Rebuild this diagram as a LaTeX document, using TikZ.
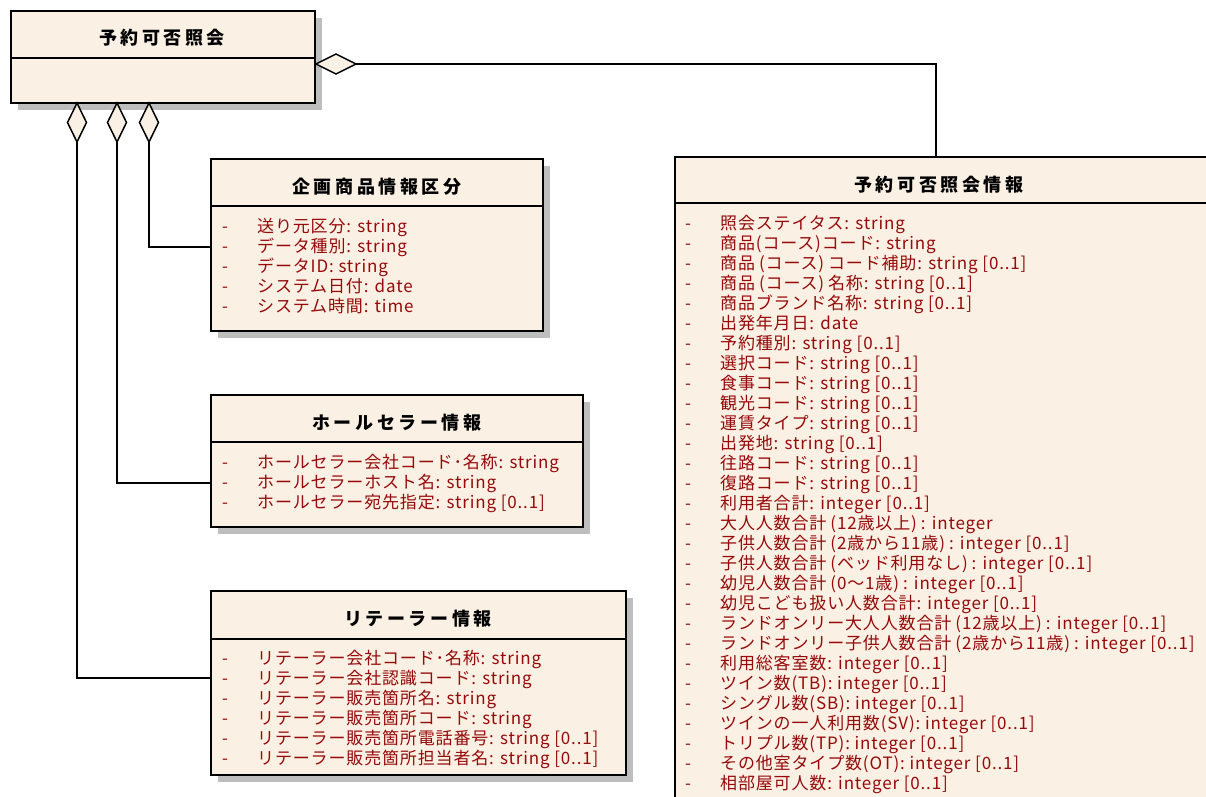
\documentclass[tikz,border=0pt]{standalone}
\usepackage{fontspec}
\setmainfont{Noto Sans CJK JP}
\newfontfamily\attrfont[LetterSpace=5]{Noto Sans CJK JP}
\newfontfamily\titlefont[LetterSpace=20]{Noto Sans CJK JP}
\usetikzlibrary{shadows}
\definecolor{cream}{RGB}{250,240,228}
\definecolor{attrred}{RGB}{150,10,10}
\definecolor{shadowgray}{RGB}{190,190,190}
\newcommand{\lp}{\hspace{4pt}(}
\newcommand{\rp}{)\hspace{4pt}}
\begin{document}
\begin{tikzpicture}[x=1pt,y=-1pt,
  box/.style={draw, line width=1.5pt, fill=cream, inner sep=0pt, anchor=north west,
    general shadow={fill=shadowgray, shadow xshift=7pt, shadow yshift=-7pt}},
  sepline/.style={line width=1.5pt},
  titletext/.style={font=\titlefont\bfseries\fontsize{18}{20}\selectfont, inner sep=0pt, anchor=center},
  attr/.style={font=\attrfont\fontsize{17}{20}\selectfont, text=attrred, inner sep=0pt, anchor=base west},
  conn/.style={line width=1.5pt},
  dia/.style={draw, line width=1.5pt, fill=cream, line join=miter}]
\useasboundingbox (0,0) rectangle (1206,796);
\clip (0,0) rectangle (1206,796);

% ---- main class
\node[box, minimum width=304pt, minimum height=92pt] (yoyaku) at (10,10) {};
\draw[sepline] (10,58) -- (314,58);
\node[titletext] (yoyaku-t) at (162,38) {予約可否照会};

% ---- 企画商品情報区分
\node[box, minimum width=332pt, minimum height=172pt] (kikaku) at (210,158) {};
\draw[sepline] (210,206) -- (542,206);
\node[titletext] (kikaku-t) at (377,187) {企画商品情報区分};
\foreach \t [count=\i] in {{送り元区分: string},{データ種別: string},{データID: string},{システム日付: date},{システム時間: time}}{
  \node[attr] (kikaku-d\i) at (222,{232+20*(\i-1)}) {-};
  \node[attr] (kikaku-a\i) at (257,{232+20*(\i-1)}) {\t};
}

% ---- ホールセラー情報
\node[box, minimum width=372pt, minimum height=132pt] (wsl) at (210,394) {};
\draw[sepline] (210,442) -- (582,442);
\node[titletext] (wsl-t) at (397,423) {ホールセラー情報};
\foreach \t [count=\i] in {{ホールセラー会社コード･名称: string},{ホールセラーホスト名: string},{ホールセラー宛先指定: string [0..1]}}{
  \node[attr] (wsl-d\i) at (222,{468+20*(\i-1)}) {-};
  \node[attr] (wsl-a\i) at (257,{468+20*(\i-1)}) {\t};
}

% ---- リテーラー情報
\node[box, minimum width=415pt, minimum height=184pt] (rtl) at (210,590) {};
\draw[sepline] (210,639) -- (625,639);
\node[titletext] (rtl-t) at (418,619) {リテーラー情報};
\foreach \t [count=\i] in {{リテーラー会社コード･名称: string},{リテーラー会社認識コード: string},{リテーラー販売箇所名: string},{リテーラー販売箇所コード: string},{リテーラー販売箇所電話番号: string [0..1]},{リテーラー販売箇所担当者名: string [0..1]}}{
  \node[attr] (rtl-d\i) at (222,{664+20*(\i-1)}) {-};
  \node[attr] (rtl-a\i) at (257,{664+20*(\i-1)}) {\t};
}

% ---- 予約可否照会情報
\node[box, minimum width=570pt, minimum height=700pt] (info) at (674,156) {};
\draw[sepline] (674,203) -- (1240,203);
\node[titletext] (info-t) at (939,185) {予約可否照会情報};
\foreach \t [count=\i] in {
 {照会ステイタス: string},
 {商品(コース)コード: string},
 {商品\lp コース\rp コード補助: string [0..1]},
 {商品\lp コース\rp 名称: string [0..1]},
 {商品ブランド名称: string [0..1]},
 {出発年月日: date},
 {予約種別: string [0..1]},
 {選択コード: string [0..1]},
 {食事コード: string [0..1]},
 {観光コード: string [0..1]},
 {運賃タイプ: string [0..1]},
 {出発地: string [0..1]},
 {往路コード: string [0..1]},
 {復路コード: string [0..1]},
 {利用者合計: integer [0..1]},
 {大人人数合計\lp 12歳以上\rp : integer},
 {子供人数合計\lp 2歳から11歳\rp : integer [0..1]},
 {子供人数合計\lp ベッド利用なし\rp : integer [0..1]},
 {幼児人数合計\lp 0～1歳\rp : integer [0..1]},
 {幼児こども扱い人数合計: integer [0..1]},
 {ランドオンリー大人人数合計\lp 12歳以上\rp : integer [0..1]},
 {ランドオンリー子供人数合計\lp 2歳から11歳\rp : integer [0..1]},
 {利用総客室数: integer [0..1]},
 {ツイン数(TB): integer [0..1]},
 {シングル数(SB): integer [0..1]},
 {ツインの一人利用数(SV): integer [0..1]},
 {トリプル数(TP): integer [0..1]},
 {その他室タイプ数(OT): integer [0..1]},
 {相部屋可人数: integer [0..1]}}{
  \node[attr] (info-d\i) at (685,{229.5+20*(\i-1)}) {-};
  \node[attr] (info-a\i) at (720,{229.5+20*(\i-1)}) {\t};
}

% ---- aggregation diamonds and connectors
\coordinate (d1) at (77,142);
\coordinate (d2) at (117,142);
\coordinate (d3) at (149,142);
\coordinate (d4) at (356,64);
\coordinate (infotop) at (936,156);
\draw[conn] (d3) |- ([yshift=-2pt]kikaku.west);
\draw[conn] (d2) |- ([yshift=-22pt]wsl.west);
\draw[conn] (d1) |- ([yshift=5pt]rtl.west);
\draw[conn] (d4) -| (infotop);
\foreach \x in {77,117,149}{
  \draw[dia] (\x,103) -- (\x+9.5,122.5) -- (\x,142) -- (\x-9.5,122.5) -- cycle;
}
\draw[dia] (316,64) -- (336,54) -- (356,64) -- (336,74) -- cycle;
\end{tikzpicture}
\end{document}
